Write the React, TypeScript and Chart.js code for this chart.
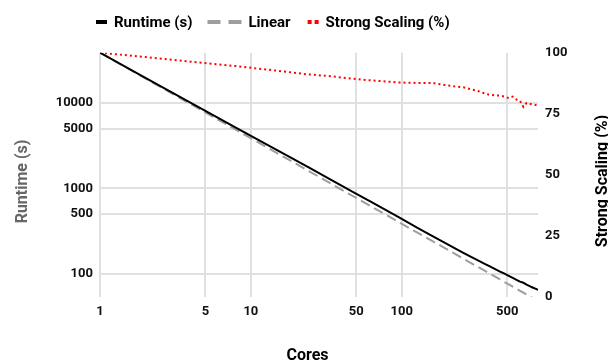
import React, { useEffect, useRef } from 'react';
import { Chart, registerables } from 'chart.js';

Chart.register(...registerables);

// ---- data ----
const cores = [1, 2, 4, 8, 16, 24, 32, 48, 64, 96, 128, 160, 192, 224, 256, 288, 320, 352, 384, 416, 448, 480, 512, 544, 576, 608, 640, 672, 704, 736, 768, 800];
const runtime = [38700, 19600, 10030, 5120, 2620, 1772, 1338, 902, 682, 459, 345, 277, 233, 201, 177, 159, 144, 132.5, 122.6, 114.2, 106.9, 100.8, 95.1, 90.0, 85.5, 81.6, 79.0, 75.2, 72.1, 69.6, 67.4, 65.4];
const linear = [38700, 19350, 9675, 4838, 2419, 1612, 1209, 806, 605, 403, 302, 242, 202, 173, 151, 134, 121, 110, 100.8, 93.0, 86.4, 80.6, 75.6, 71.1, 67.2, 63.7, 60.5, 57.6, 55.0, 52.6, 50.4, 48.4];
const scaling = [100, 98.2, 96.3, 94.5, 92.4, 91.1, 90.5, 89.3, 88.6, 87.8, 87.6, 87.6, 86.8, 86.2, 85.8, 85.0, 84.3, 83.4, 82.7, 82.5, 82.4, 82.0, 81.4, 82.0, 80.8, 80.3, 77.8, 79.4, 79.1, 78.8, 78.6, 78.4];

const xTicks = [1, 5, 10, 50, 100, 500];
const yTicks = [100, 500, 1000, 5000, 10000];
const y2Ticks = [0, 25, 50, 75, 100];

const seriesNames = ['Runtime (s)', 'Linear', 'Strong Scaling (%)'];
const xTitle = 'Cores';
const yTitle = 'Runtime (s)';
const y2Title = 'Strong Scaling (%)';

const BLACK = '#000000';
const GRAY = '#9e9e9e';
const RED = '#ff0000';
const GRID = '#e0e0e0';
const FONT = 'Roboto';

const overlay = {
  id: 'overlay',
  afterDraw(chart: any) {
    const ctx = chart.ctx as CanvasRenderingContext2D;
    ctx.save();
    // legend
    ctx.font = `bold 15px ${FONT}`;
    ctx.textAlign = 'left';
    ctx.textBaseline = 'alphabetic';
    const cy = 22;
    const base = 27;
    let x = 96;
    ctx.fillStyle = BLACK;
    ctx.fillRect(x, cy - 2, 11, 4);
    x += 11 + 7;
    ctx.fillStyle = '#000';
    ctx.fillText(seriesNames[0], x, base);
    x += ctx.measureText(seriesNames[0]).width + 15;
    ctx.fillStyle = GRAY;
    ctx.fillRect(x, cy - 2, 13, 4);
    ctx.fillRect(x + 21, cy - 2, 13, 4);
    x += 34 + 7;
    ctx.fillStyle = '#000';
    ctx.fillText(seriesNames[1], x, base);
    x += ctx.measureText(seriesNames[1]).width + 17;
    ctx.fillStyle = RED;
    ctx.fillRect(x, cy - 2, 4, 4);
    ctx.fillRect(x + 7, cy - 2, 4, 4);
    x += 11 + 7;
    ctx.fillStyle = '#000';
    ctx.fillText(seriesNames[2], x, base);

    // axis titles
    ctx.font = `bold 16px ${FONT}`;
    ctx.textAlign = 'center';
    ctx.fillStyle = '#000';
    ctx.fillText(xTitle, 307.5, 360);

    ctx.save();
    ctx.translate(26.5, 181.5);
    ctx.rotate(-Math.PI / 2);
    ctx.fillStyle = '#666666';
    ctx.fillText(yTitle, 0, 0);
    ctx.restore();

    ctx.save();
    ctx.translate(606.5, 181);
    ctx.rotate(-Math.PI / 2);
    ctx.fillStyle = '#000';
    ctx.fillText(y2Title, 0, 0);
    ctx.restore();

    ctx.restore();
  },
};

export default function App() {
  const ref = useRef<HTMLCanvasElement | null>(null);

  useEffect(() => {
    if (!ref.current) return;
    const tickFont = { family: FONT, size: 13, weight: 'bold' as const };
    const chart = new Chart(ref.current, {
      type: 'line',
      data: {
        datasets: [
          {
            label: seriesNames[0],
            data: cores.map((c, i) => ({ x: c, y: runtime[i] })),
            borderColor: BLACK,
            backgroundColor: BLACK,
            borderWidth: 2,
            pointRadius: 0,
            tension: 0,
            yAxisID: 'y',
          },
          {
            label: seriesNames[1],
            data: cores.map((c, i) => ({ x: c, y: linear[i] })),
            borderColor: GRAY,
            backgroundColor: GRAY,
            borderWidth: 2,
            borderDash: [10, 5],
            pointRadius: 0,
            tension: 0,
            yAxisID: 'y',
          },
          {
            label: seriesNames[2],
            data: cores.map((c, i) => ({ x: c, y: scaling[i] })),
            borderColor: RED,
            backgroundColor: RED,
            borderWidth: 2,
            borderDash: [2, 3],
            pointRadius: 0,
            tension: 0,
            yAxisID: 'y1',
          },
        ],
      },
      options: {
        animation: false,
        responsive: true,
        maintainAspectRatio: false,
        layout: { padding: { left: 0, right: 0, top: 52.7, bottom: 0 } },
        plugins: {
          legend: { display: false },
          tooltip: { enabled: false },
        },
        scales: {
          x: {
            type: 'logarithmic',
            min: 1,
            max: 800,
            afterBuildTicks: (s: any) => {
              s.ticks = xTicks.map((v) => ({ value: v }));
            },
            afterFit: (s: any) => {
              s.height = 65.3;
            },
            grid: { color: GRID, lineWidth: 2, drawTicks: false },
            border: { display: false },
            ticks: {
              color: '#111',
              font: tickFont,
              padding: 7,
              maxRotation: 0,
              autoSkip: false,
              callback: (v: any) => String(v),
            },
          },
          y: {
            type: 'logarithmic',
            position: 'left',
            min: 54.3,
            max: 38700,
            afterBuildTicks: (s: any) => {
              s.ticks = yTicks.map((v) => ({ value: v }));
            },
            afterFit: (s: any) => {
              s.width = 100;
            },
            grid: { color: GRID, lineWidth: 2, drawTicks: false },
            border: { display: false },
            ticks: {
              color: '#111',
              font: tickFont,
              padding: 7,
              autoSkip: false,
              callback: (v: any) => String(v),
            },
          },
          y1: {
            type: 'linear',
            position: 'right',
            min: 0,
            max: 100,
            afterBuildTicks: (s: any) => {
              s.ticks = y2Ticks.map((v) => ({ value: v }));
            },
            afterFit: (s: any) => {
              s.width = 70;
            },
            grid: { display: false, drawTicks: false },
            border: { display: false },
            ticks: {
              color: '#111',
              font: tickFont,
              padding: 7,
              autoSkip: false,
              callback: (v: any) => String(v),
            },
          },
        },
      },
      plugins: [overlay],
    });
    return () => chart.destroy();
  }, []);

  return (
    <div style={{ position: 'fixed', left: 0, top: 0, width: 608, height: 362 }}>
      <canvas ref={ref} />
    </div>
  );
}
